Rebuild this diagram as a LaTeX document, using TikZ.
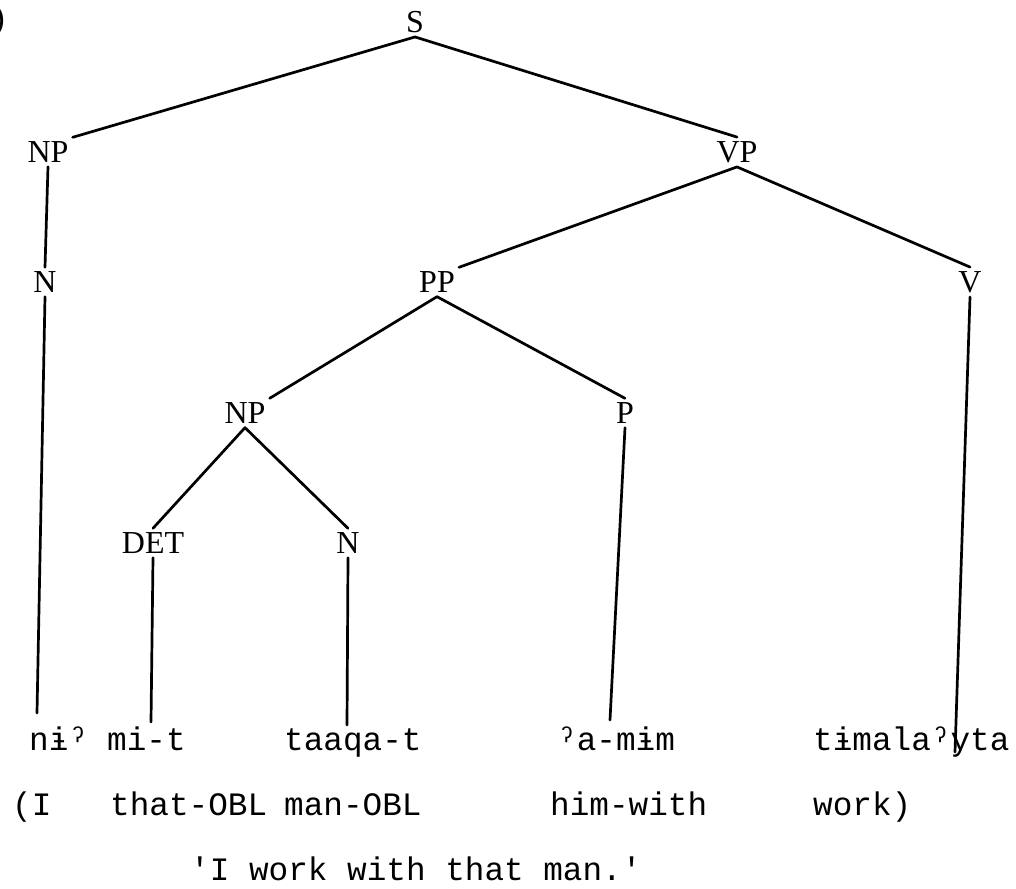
\documentclass[tikz,border=0pt]{standalone}
\usepackage{fontspec}
\font\twf="Liberation Mono" at 32.7pt
\font\lbf="Liberation Serif" at 32pt
\begin{document}
\begin{tikzpicture}[x=1pt,y=-1pt,
  lab/.style={font=\lbf, inner sep=4pt},
  wd/.style={font=\twf, anchor=base west, inner sep=0pt},
  br/.style={line width=2.7pt, line cap=round}]
\useasboundingbox (0,0) rectangle (1016,888);
% example number (cut off at the left edge)
\node[wd] (num) at (-11,30) {)};
% tree labels
\node[lab] (S)   at (415,22)  {S};
\node[lab] (NP1) at (48,152)  {NP};
\node[lab] (VP)  at (737,152) {VP};
\node[lab] (N1)  at (45,282)  {N};
\node[lab] (PP)  at (437,282) {PP};
\node[lab] (V)   at (970,282) {V};
\node[lab] (NP2) at (245,413) {NP};
\node[lab] (P)   at (625,413) {P};
\node[lab] (DET) at (153,543) {DET};
\node[lab] (N2)  at (348,543) {N};
% words
\node[wd] (w1) at (29,750)  {nɨˀ};
\node[wd] (w2) at (107,750) {mi-t};
\node[wd] (w3) at (284,750) {taaqa-t};
\node[wd] (w4) at (557,750) {ˀa-mɨm};
\node[wd] (w5) at (813,750) {tɨmalaˀyta};
% glosses
\node[wd] (g1) at (12,815)  {(I};
\node[wd] (g2) at (110,815) {that-OBL};
\node[wd] (g3) at (284,815) {man-OBL};
\node[wd] (g4) at (550,815) {him-with};
\node[wd] (g5) at (813,815) {work)};
% free translation
\node[wd] (tr) at (190,880) {'I work with that man.'};
% free ends of the lowest branches
\coordinate (eN1)  at (37,713);
\coordinate (eDET) at (151,722);
\coordinate (eN2)  at (347,725);
\coordinate (eP)   at (610,720);
\coordinate (eV)   at (955,752);
% branches
\draw[br] (S.south) -- (NP1.north east);
\draw[br] (S.south) -- (VP.north);
\draw[br] (NP1.south) -- (N1.north);
\draw[br] (N1.south) -- (eN1);
\draw[br] (VP.south) -- (PP.north east);
\draw[br] (VP.south) -- (V.north);
\draw[br] (V.south) -- (eV);
\draw[br] (PP.south) -- (NP2.north east);
\draw[br] (PP.south) -- (P.north);
\draw[br] (P.south) -- (eP);
\draw[br] (NP2.south) -- (DET.north);
\draw[br] (NP2.south) -- (N2.north);
\draw[br] (DET.south) -- (eDET);
\draw[br] (N2.south) -- (eN2);
\end{tikzpicture}
\end{document}
